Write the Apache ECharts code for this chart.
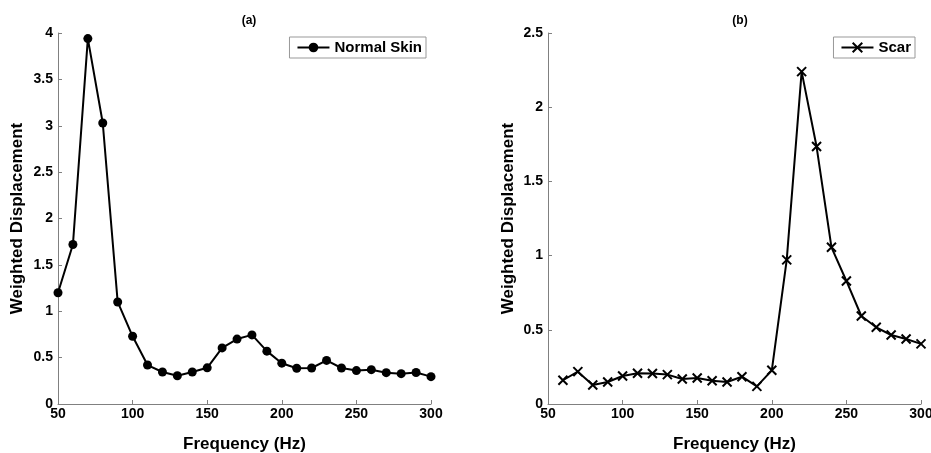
<!DOCTYPE html>
<html>
<head>
<meta charset="utf-8">
<script src="https://cdn.jsdelivr.net/npm/echarts@6/dist/echarts.min.js"></script>
<style>
  html, body { margin: 0; padding: 0; background: #fff; }
  #chart { width: 931px; height: 453px; }
</style>
</head>
<body>
<div id="chart"></div>
<script>
// frequencies (Hz) and weighted displacement for each panel
var freqSkin = [50, 60, 70, 80, 90, 100, 110, 120, 130, 140, 150, 160, 170, 180, 190, 200, 210, 220, 230, 240, 250, 260, 270, 280, 290, 300];
var normalSkin = [1.20, 1.72, 3.94, 3.03, 1.10, 0.73, 0.42, 0.345, 0.305, 0.345, 0.39, 0.605, 0.70, 0.745, 0.57, 0.44, 0.385, 0.388, 0.47, 0.388, 0.36, 0.37, 0.338, 0.327, 0.34, 0.295];

var freqScar = [60, 70, 80, 90, 100, 110, 120, 130, 140, 150, 160, 170, 180, 190, 200, 210, 220, 230, 240, 250, 260, 270, 280, 290, 300];
var scar = [0.16, 0.218, 0.128, 0.148, 0.189, 0.207, 0.205, 0.198, 0.169, 0.175, 0.157, 0.148, 0.184, 0.119, 0.227, 0.971, 2.24, 1.735, 1.056, 0.829, 0.593, 0.517, 0.465, 0.438, 0.405];

var panelTitles = ['(a)', '(b)'];

function pairs(xs, ys) {
  return xs.map(function (x, i) { return [x, ys[i]]; });
}

var chart = echarts.init(document.getElementById('chart'));

var font = 'Liberation Sans, Arial, sans-serif';
var axisGray = '#808080';

function xAxisFor(gridIndex) {
  return {
    type: 'value',
    gridIndex: gridIndex,
    min: 50,
    max: 300,
    interval: 50,
    name: 'Frequency (Hz)',
    nameLocation: 'middle',
    nameGap: 32,
    nameTextStyle: { fontFamily: font, fontWeight: 'bold', fontSize: 17, color: '#000' },
    axisLine: { show: true, lineStyle: { color: axisGray, width: 1 } },
    axisTick: { show: true, inside: true, length: 4, lineStyle: { color: axisGray } },
    axisLabel: { fontFamily: font, fontWeight: 'bold', fontSize: 14, color: '#000', margin: 3 },
    splitLine: { show: false }
  };
}

function yAxisFor(gridIndex, max, interval, nameGap) {
  return {
    type: 'value',
    gridIndex: gridIndex,
    min: 0,
    max: max,
    interval: interval,
    name: 'Weighted Displacement',
    nameLocation: 'middle',
    nameGap: nameGap,
    nameTextStyle: { fontFamily: font, fontWeight: 'bold', fontSize: 17, color: '#000' },
    axisLine: { show: true, lineStyle: { color: axisGray, width: 1 } },
    axisTick: { show: true, inside: true, length: 4, lineStyle: { color: axisGray } },
    axisLabel: { fontFamily: font, fontWeight: 'bold', fontSize: 14, color: '#000', margin: 5 },
    splitLine: { show: false }
  };
}

var legendBase = {
  top: 37,
  orient: 'vertical',
  borderColor: '#999',
  borderWidth: 1,
  padding: [3, 4, 3, 7],
  itemWidth: 32,
  itemHeight: 12,
  itemGap: 4,
  textStyle: { fontFamily: font, fontWeight: 'bold', fontSize: 15, color: '#000' }
};

var option = {
  animation: false,
  backgroundColor: '#fff',
  title: [
    { text: panelTitles[0], left: 244, top: 10, textAlign: 'center',
      textStyle: { fontFamily: font, fontWeight: 'bold', fontSize: 12, color: '#000' } },
    { text: panelTitles[1], left: 735, top: 10, textAlign: 'center',
      textStyle: { fontFamily: font, fontWeight: 'bold', fontSize: 12, color: '#000' } }
  ],
  legend: [
    Object.assign({}, legendBase, { data: ['Normal Skin'], right: 505 }),
    Object.assign({}, legendBase, { data: ['Scar'], right: 16 })
  ],
  grid: [
    { left: 58, top: 33, width: 373, height: 371, outerBoundsMode: 'none' },
    { left: 548, top: 33, width: 373, height: 371, outerBoundsMode: 'none' }
  ],
  xAxis: [xAxisFor(0), xAxisFor(1)],
  yAxis: [yAxisFor(0, 4, 0.5, 32), yAxisFor(1, 2.5, 0.5, 31)],
  series: [
    {
      name: 'Normal Skin',
      type: 'line',
      xAxisIndex: 0,
      yAxisIndex: 0,
      data: pairs(freqSkin, normalSkin),
      symbol: 'circle',
      symbolSize: 9,
      lineStyle: { color: '#000', width: 2 },
      itemStyle: { color: '#000' }
    },
    {
      name: 'Scar',
      type: 'line',
      xAxisIndex: 1,
      yAxisIndex: 1,
      data: pairs(freqScar, scar),
      symbol: 'path://M0,0L10,10M10,0L0,10',
      symbolSize: 9,
      lineStyle: { color: '#000', width: 2 },
      itemStyle: { color: 'none', borderColor: '#000', borderWidth: 2 }
    }
  ]
};

chart.setOption(option);
</script>
</body>
</html>
